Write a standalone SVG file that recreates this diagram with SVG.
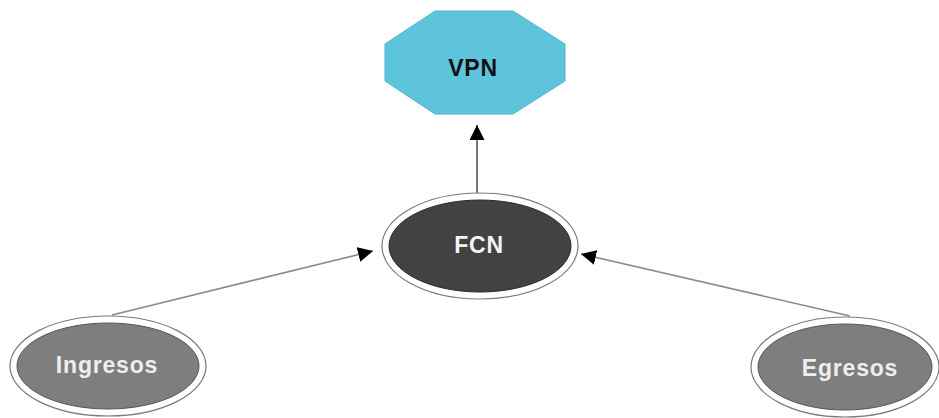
<svg xmlns="http://www.w3.org/2000/svg" width="939" height="418" viewBox="0 0 939 418">
  <style>
    .lbl { font-family: "Liberation Sans", Arial, sans-serif; font-weight: bold; font-size: 23px; letter-spacing: 0.8px; text-anchor: middle; dominant-baseline: central; }
    .ring { fill: #ffffff; stroke: #7a7a7a; stroke-width: 1.2; }
    .link { stroke: #8a8a8a; stroke-width: 1.6; fill: none; }
  </style>
  <defs>
    <marker id="arrow" viewBox="0 0 10 10" refX="10" refY="5" markerWidth="15" markerHeight="15" markerUnits="userSpaceOnUse" orient="auto">
      <path d="M0,0 L10,5 L0,10 z" fill="#000000"/>
    </marker>
  </defs>
  <rect width="939" height="418" fill="#ffffff"/>

  <g id="connectors">
    <line class="link" x1="477" y1="193" x2="477" y2="125" marker-end="url(#arrow)" style="stroke:#555"/>
    <line class="link" x1="112" y1="315" x2="373" y2="251" marker-end="url(#arrow)"/>
    <line class="link" x1="850" y1="316" x2="581" y2="254" marker-end="url(#arrow)"/>
  </g>

  <g id="vpn">
    <polygon points="435,11 513,11 565,44 565,81 513,114 435,114 385,81 385,44" fill="#5ec4dc" stroke="#4fb5cd" stroke-width="1"/>
    <text class="lbl" x="473" y="68" fill="#111111">VPN</text>
  </g>

  <g id="fcn">
    <ellipse class="ring" cx="480" cy="246" rx="98" ry="53"/>
    <ellipse cx="480" cy="246" rx="91" ry="46" fill="#424242" stroke="#2a2a2a" stroke-width="1"/>
    <text class="lbl" x="479" y="245" fill="#f4f4f4">FCN</text>
  </g>

  <g id="ingresos">
    <ellipse class="ring" cx="108" cy="366" rx="98" ry="50"/>
    <ellipse cx="108" cy="366" rx="91" ry="43" fill="#7e7e7e" stroke="#555555" stroke-width="1"/>
    <text class="lbl" x="107" y="365" fill="#eeeeee">Ingresos</text>
  </g>

  <g id="egresos">
    <ellipse class="ring" cx="845" cy="367" rx="94" ry="50"/>
    <ellipse cx="845" cy="367" rx="87" ry="43" fill="#7e7e7e" stroke="#555555" stroke-width="1"/>
    <text class="lbl" x="850" y="368" fill="#eeeeee">Egresos</text>
  </g>
</svg>
